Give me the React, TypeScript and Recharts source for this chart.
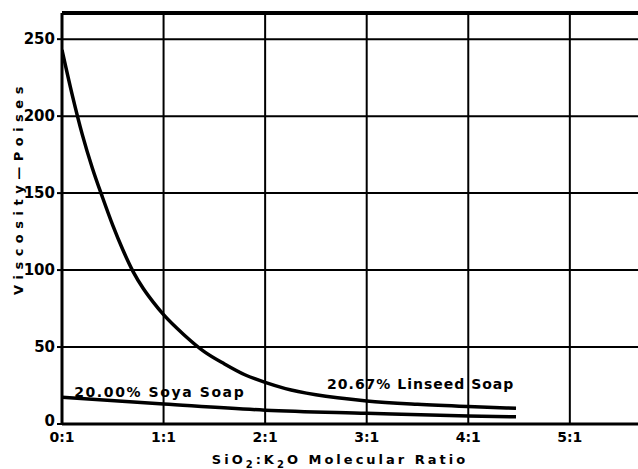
import React from 'react';
import { LineChart, Line, XAxis, YAxis, CartesianGrid, ReferenceLine, ReferenceDot } from 'recharts';

const linseedX = [0, 0.1, 0.2, 0.3, 0.4, 0.5, 0.6, 0.7, 0.8, 0.9, 1.0, 1.2, 1.4, 1.6, 1.8, 2.0, 2.2, 2.5, 3.0, 3.5, 4.0, 4.47];
const linseedY = [243, 214, 188, 166, 147, 129, 113, 99, 88, 79, 71, 58, 47, 39, 32, 27, 23, 19, 15, 12.8, 11.3, 10.2];
const soyaX = [0, 1, 2, 3, 4, 4.47];
const soyaY = [17.3, 13, 9, 7, 5.2, 4.7];
const xTicks = [0, 1, 2, 3, 4, 5];
const xTickLabels = ['0:1', '1:1', '2:1', '3:1', '4:1', '5:1'];
const yTicks = [0, 50, 100, 150, 200, 250];
const X_MAX = 5.74;
const Y_MAX = 267;

const linseedData = linseedX.map((x, i) => ({ x, y: linseedY[i] }));
const soyaData = soyaX.map((x, i) => ({ x, y: soyaY[i] }));

const FONT = '"DejaVu Sans", "Liberation Sans", sans-serif';

const AnnoLabel = (text: string, spacing: number) => (props: any) => {
  const vb = props.viewBox || {};
  return (
    <text x={vb.x} y={vb.y} dy={5} fontFamily={FONT} fontWeight="bold" fontSize={14} letterSpacing={spacing} fill="#000">
      {text}
    </text>
  );
};

const YTick = (props: any) => {
  const { x, y, payload } = props;
  const shift = payload.value === 0 ? -3 : 0;
  return (
    <text x={x} y={y + shift} dy={5} textAnchor="end" fontFamily={FONT} fontWeight="bold" fontSize={15} fill="#000">
      {payload.value}
    </text>
  );
};

const XTick = (props: any) => {
  const { x, y, payload } = props;
  return (
    <text x={x} y={y} dy={11} textAnchor="middle" fontFamily={FONT} fontWeight="bold" fontSize={14} fill="#000">
      {xTickLabels[xTicks.indexOf(payload.value)]}
    </text>
  );
};

export default function App() {
  return (
    <div style={{ position: 'absolute', left: 0, top: 0, width: 638, height: 469, overflow: 'hidden', background: '#fff' }}>
      <LineChart width={645} height={469} margin={{ top: 13, right: 0, bottom: 20, left: 0 }}>
        <CartesianGrid stroke="#000" strokeWidth={2} vertical={false} />
        {xTicks.slice(1).map((t) => (
          <ReferenceLine key={t} x={t} stroke="#000" strokeWidth={2} />
        ))}
        <XAxis
          type="number"
          dataKey="x"
          domain={[0, X_MAX]}
          ticks={xTicks}
          allowDataOverflow
          height={25}
          axisLine={{ stroke: '#000', strokeWidth: 3 }}
          tickLine={false}
          tick={<XTick />}
          tickMargin={1}
          label={(props: any) => {
            const vb = props.viewBox;
            return (
              <text x={340} y={vb.y + vb.height + 15} textAnchor="middle" fontFamily={FONT} fontWeight="bold" fontSize={13} letterSpacing={3} fill="#000">
                SiO<tspan fontSize={10} dy={4}>2</tspan><tspan dy={-4}>:K</tspan><tspan fontSize={10} dy={4}>2</tspan><tspan dy={-4}>O  Molecular  Ratio</tspan>
              </text>
            );
          }}
        />
        <YAxis
          type="number"
          domain={[0, Y_MAX]}
          ticks={yTicks}
          allowDataOverflow
          width={62}
          axisLine={{ stroke: '#000', strokeWidth: 3 }}
          tickLine={{ stroke: '#000', strokeWidth: 2 }}
          tickSize={5}
          tick={<YTick />}
          label={() => (
            <text x={19} y={188} transform="rotate(-90 19 188)" textAnchor="middle" dominantBaseline="middle" fontFamily={FONT} fontWeight="bold" fontSize={13} letterSpacing={5.5} fill="#000">
              Viscosity—Poises
            </text>
          )}
        />
        <ReferenceLine y={Y_MAX} stroke="#000" strokeWidth={4} />
        <Line data={linseedData} dataKey="y" type="monotone" stroke="#000" strokeWidth={3.5} dot={false} isAnimationActive={false} />
        <Line data={soyaData} dataKey="y" type="monotone" stroke="#000" strokeWidth={3.5} dot={false} isAnimationActive={false} />
        <ReferenceDot x={0.12} y={20.8} r={0} fill="none" stroke="none" label={AnnoLabel('20.00% Soya Soap', 1.6)} />
        <ReferenceDot x={2.61} y={26} r={0} fill="none" stroke="none" label={AnnoLabel('20.67% Linseed Soap', 1.0)} />
      </LineChart>
    </div>
  );
}
